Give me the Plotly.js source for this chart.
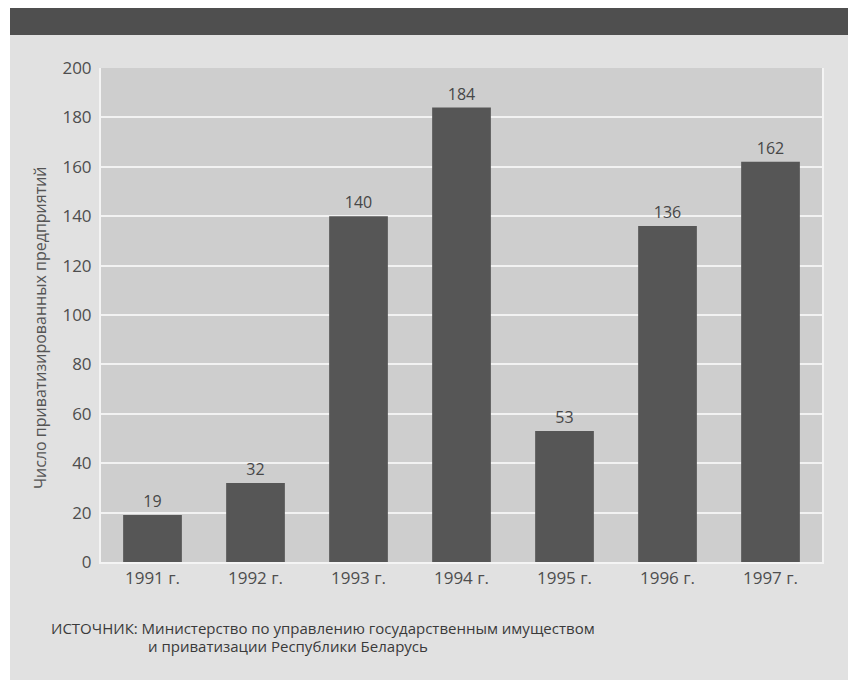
<!DOCTYPE html>
<html>
<head>
<meta charset="utf-8">
<script src="https://cdn.plot.ly/plotly-3.0.1.min.js"></script>
<style>
  html, body { margin: 0; padding: 0; background: #ffffff; }
  #chart { width: 848px; height: 680px; }
</style>
</head>
<body>
<div id="chart"></div>
<script>
// Число приватизированных предприятий по годам
const years = ["1991 г.", "1992 г.", "1993 г.", "1994 г.", "1995 г.", "1996 г.", "1997 г."];
const counts = [19, 32, 140, 184, 53, 136, 162];
const yTicks = [0, 20, 40, 60, 80, 100, 120, 140, 160, 180, 200];

const yTitle = "Число приватизированных предприятий";
const sourceLine1 = "ИСТОЧНИК: Министерство по управлению государственным имуществом";
const sourceLine2 = "и приватизации Республики Беларусь";

const W = 848, H = 680;
const M = { l: 101, r: 26, t: 68, b: 118 };
const pw = W - M.l - M.r, ph = H - M.t - M.b;
// pixel -> paper coordinates helpers
const px = x => (x - M.l) / pw;
const py = y => (H - M.b - y) / ph;

const font = "'Open Sans', 'Noto Sans', sans-serif";

const trace = {
  type: "bar",
  x: years,
  y: counts,
  marker: { color: "#565656", line: { width: 0 } },
  text: counts.map(String),
  textposition: "outside",
  cliponaxis: false,
  textfont: { family: font, size: 16, color: "#474747" },
  hoverinfo: "skip"
};

const layout = {
  width: W,
  height: H,
  margin: M,
  paper_bgcolor: "#e1e1e1",
  plot_bgcolor: "#cecece",
  showlegend: false,
  bargap: 0.43,
  xaxis: {
    type: "category",
    showgrid: false,
    showline: true,
    linecolor: "#f4f4f4",
    linewidth: 2,
    ticks: "",
    tickfont: { family: font, size: 17, color: "#4e4e4e" },
    fixedrange: true
  },
  yaxis: {
    range: [0, 200],
    tickvals: yTicks,
    ticktext: yTicks.map(String),
    showgrid: true,
    gridcolor: "#f2f2f2",
    gridwidth: 2,
    zeroline: false,
    showline: true,
    mirror: true,
    linecolor: "#f4f4f4",
    linewidth: 2,
    ticks: "",
    ticklabelstandoff: 4,
    tickfont: { family: font, size: 17, color: "#4e4e4e" },
    fixedrange: true
  },
  shapes: [
    // dark band across the top
    { type: "rect", xref: "paper", yref: "paper", layer: "below",
      x0: px(10), x1: px(W), y0: py(35), y1: py(8),
      fillcolor: "#4f4f4f", line: { width: 0 } },
    // white page edge on the left and top
    { type: "rect", xref: "paper", yref: "paper", layer: "below",
      x0: px(0), x1: px(10), y0: py(H), y1: py(0),
      fillcolor: "#ffffff", line: { width: 0 } },
    { type: "rect", xref: "paper", yref: "paper", layer: "below",
      x0: px(0), x1: px(W), y0: py(8), y1: py(0),
      fillcolor: "#ffffff", line: { width: 0 } }
  ],
  annotations: [
    { text: yTitle, xref: "paper", yref: "paper",
      x: px(40), y: py(328), textangle: -90,
      xanchor: "center", yanchor: "middle", showarrow: false,
      font: { family: font, size: 16, color: "#555555" } },
    { text: sourceLine1, xref: "paper", yref: "paper",
      x: px(49), y: py(628), xanchor: "left", yanchor: "middle",
      showarrow: false, font: { family: font, size: 15, color: "#3a3a3a" } },
    { text: sourceLine2, xref: "paper", yref: "paper",
      x: px(146), y: py(646), xanchor: "left", yanchor: "middle",
      showarrow: false, font: { family: font, size: 15, color: "#3a3a3a" } }
  ]
};

Plotly.newPlot("chart", [trace], layout, { displayModeBar: false, staticPlot: true });
</script>
</body>
</html>
